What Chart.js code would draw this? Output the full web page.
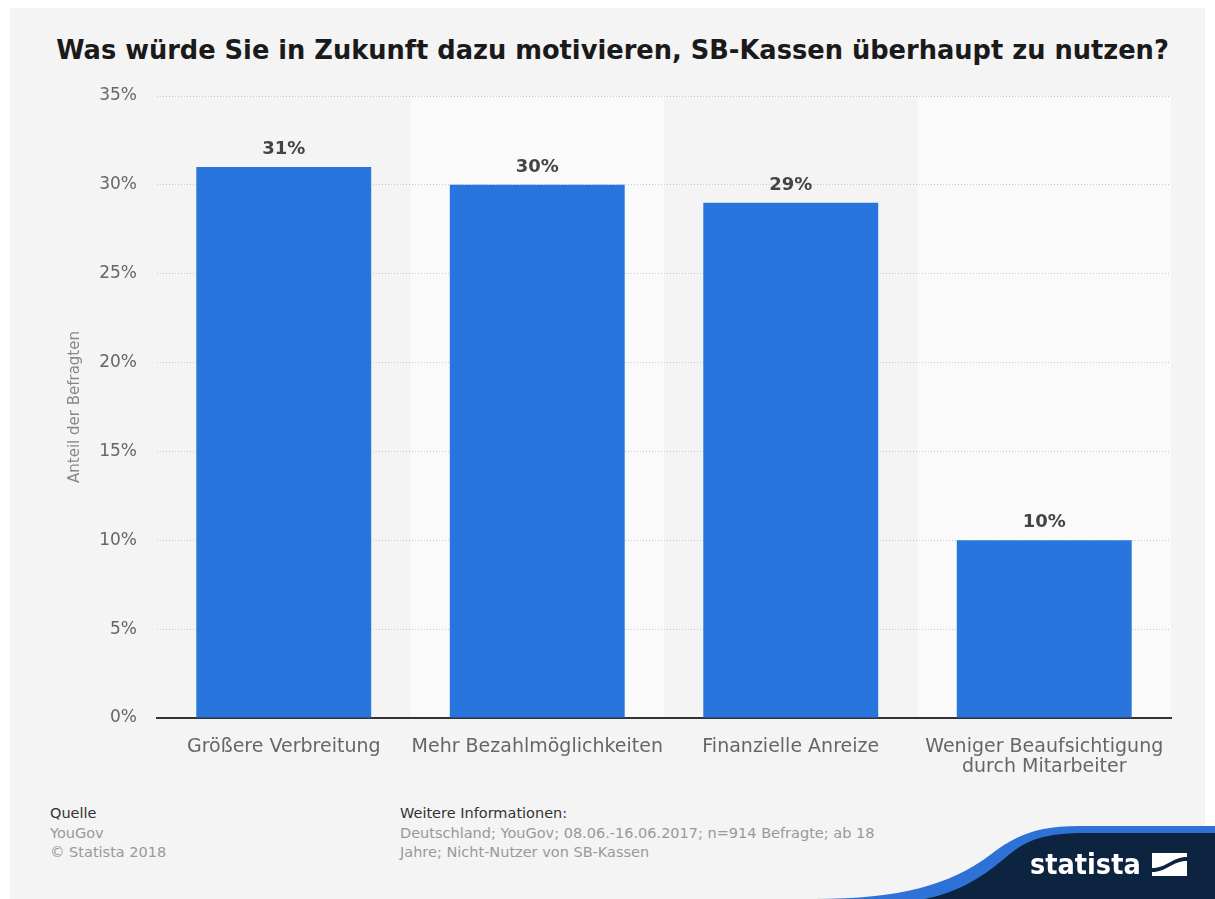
<!DOCTYPE html>
<html>
<head>
<meta charset="utf-8">
<script src="https://cdn.jsdelivr.net/npm/chart.js@4.4.1/dist/chart.umd.min.js"></script>
<style>
  html, body { margin:0; padding:0; background:#ffffff; }
  body { width:1215px; height:899px; position:relative; overflow:hidden; font-family:"DejaVu Sans", sans-serif; }
  #bg { position:absolute; left:10px; top:8px; width:1195px; height:891px; background:#f4f4f4; }
  #title { position:absolute; left:10px; width:1205px; top:35px; text-align:center; font-weight:bold; font-size:25.7px; line-height:30px; color:#1a1a1a; white-space:nowrap; }
  #chart { position:absolute; left:0; top:0; }
  .foot { position:absolute; font-size:14.5px; line-height:19.5px; color:#999; white-space:nowrap; }
  .foot b { font-weight:normal; color:#333; }
  #logo { position:absolute; left:0; top:0; }
  #logotext { position:absolute; left:1030px; top:851px; font-family:"DejaVu Sans Condensed","DejaVu Sans",sans-serif; font-weight:bold; font-size:28.5px; line-height:28.5px; color:#fff; }
</style>
</head>
<body>
<div id="bg"></div>
<div id="title">Was würde Sie in Zukunft dazu motivieren, SB-Kassen überhaupt zu nutzen?</div>
<canvas id="chart" width="1215" height="800"></canvas>
<div class="foot" style="left:50px; top:804px;"><b>Quelle</b><br>YouGov<br>© Statista 2018</div>
<div class="foot" style="left:400px; top:804px;"><b>Weitere Informationen:</b><br>Deutschland; YouGov; 08.06.-16.06.2017; n=914 Befragte; ab 18<br>Jahre; Nicht-Nutzer von SB-Kassen</div>
<svg id="logo" width="1215" height="899">
  <path d="M815,899 C900,899 950,885 990,855 C1015,836 1035,826 1080,826 L1215,826 L1215,899 Z" fill="#2e72d8"/>
  <path d="M925,899 C960,892 985,875 1005,858 C1025,840 1045,833 1085,833 L1215,833 L1215,899 Z" fill="#0d2440"/>
  <path d="M1152,853 H1187 V857 C1172,857 1167,868 1152,868 Z" fill="#ffffff"/>
  <path d="M1152,872 C1167,872 1172,861 1187,861 V876 H1152 Z" fill="#ffffff"/>
</svg>
<div id="logotext">statista</div>
<script>
const categories = ["Größere Verbreitung", "Mehr Bezahlmöglichkeiten", "Finanzielle Anreize", ["Weniger Beaufsichtigung", "durch Mitarbeiter"]];
const values = [31, 30, 29, 10];
const yTicks = [0, 5, 10, 15, 20, 25, 30, 35];

const bandPlugin = {
  id: 'bands',
  beforeDraw(chart) {
    const {ctx, chartArea, scales} = chart;
    const x = scales.x;
    const half = (x.getPixelForValue(1) - x.getPixelForValue(0)) / 2;
    ctx.save();
    ctx.fillStyle = '#fafafa';
    for (let i = 1; i < categories.length; i += 2) {
      const c = x.getPixelForValue(i);
      ctx.fillRect(c - half, chartArea.top, half * 2, chartArea.bottom - chartArea.top);
    }
    ctx.restore();
  }
};

const labelPlugin = {
  id: 'vlabels',
  afterDatasetsDraw(chart) {
    const {ctx} = chart;
    const meta = chart.getDatasetMeta(0);
    ctx.save();
    ctx.font = 'bold 18px "DejaVu Sans"';
    ctx.fillStyle = '#444';
    ctx.textAlign = 'center';
    ctx.textBaseline = 'alphabetic';
    meta.data.forEach((bar, i) => {
      ctx.fillText(values[i] + '%', bar.x, bar.y - 13);
    });
    ctx.restore();
  }
};

new Chart(document.getElementById('chart'), {
  type: 'bar',
  data: {
    labels: categories,
    datasets: [{
      data: values,
      backgroundColor: '#2876dd',
      borderWidth: 0,
      categoryPercentage: 1,
      barPercentage: 0.69
    }]
  },
  options: {
    responsive: false,
    animation: false,
    devicePixelRatio: 1,
    layout: { padding: { left: 10, right: 44, top: 96, bottom: 0 } },
    plugins: { legend: { display: false }, tooltip: { enabled: false }, title: { display: false } },
    scales: {
      x: {
        grid: { display: false },
        border: { display: true, color: '#333', width: 2 },
        ticks: { color: '#666', font: { family: 'DejaVu Sans', size: 19, lineHeight: 1.05 }, padding: 11, maxRotation: 0, autoSkip: false },
        afterFit(s) { s.height = 82; }
      },
      y: {
        min: 0, max: 35,
        afterBuildTicks(s) { s.ticks = yTicks.map(v => ({ value: v })); },
        ticks: { color: '#666', font: { family: 'DejaVu Sans', size: 17 }, padding: 20, callback: v => v + '%' },
        grid: { color: '#c8c8c8', lineWidth: 1, drawTicks: false },
        border: { display: false, dash: [1, 2] },
        title: { display: true, text: 'Anteil der Befragten', color: '#888', font: { family: 'DejaVu Sans', size: 15 }, padding: { top: 56, bottom: 0 } },
        afterFit(s) { s.width = 147; }
      }
    }
  },
  plugins: [bandPlugin, labelPlugin]
});
</script>
</body>
</html>
